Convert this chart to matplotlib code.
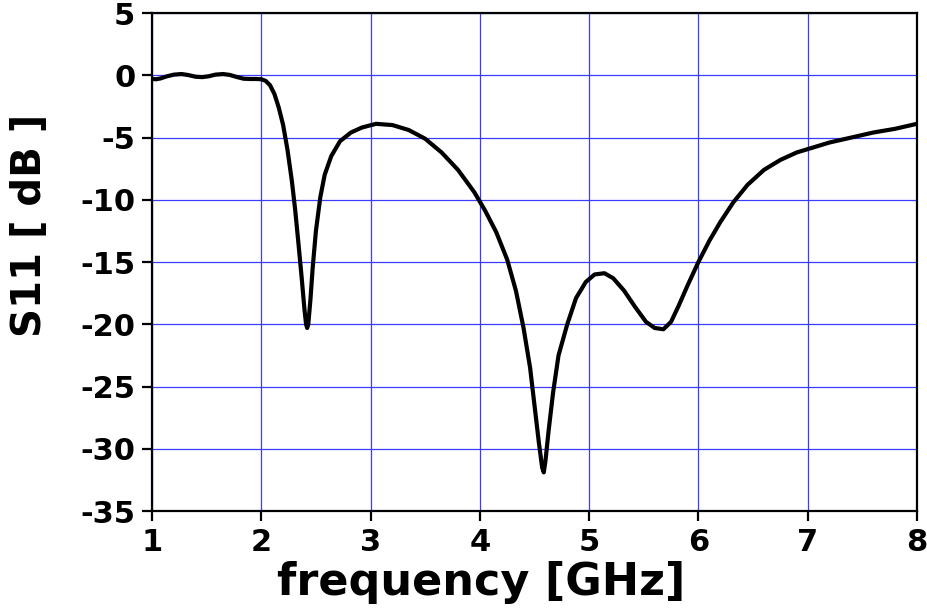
import numpy as np
import matplotlib.pyplot as plt

# S11
freq = [1.00, 1.04, 1.08, 1.13, 1.20, 1.27, 1.33, 1.40, 1.46, 1.52, 1.58, 1.65,
        1.71, 1.78, 1.84, 1.90, 1.95, 2.00, 2.04, 2.08, 2.12, 2.16, 2.20, 2.24,
        2.28, 2.31, 2.34, 2.37, 2.395, 2.41, 2.42, 2.43, 2.45, 2.47, 2.50, 2.54,
        2.58, 2.64, 2.72, 2.82, 2.92, 3.05, 3.20, 3.35, 3.50, 3.65, 3.80, 3.95,
        4.05, 4.15, 4.25, 4.33, 4.40, 4.46, 4.50, 4.54, 4.57, 4.585, 4.60, 4.63,
        4.67, 4.72, 4.80, 4.88, 4.97, 5.05, 5.14, 5.22, 5.32, 5.42, 5.52, 5.60,
        5.68, 5.75, 5.82, 5.90, 6.00, 6.10, 6.20, 6.32, 6.45, 6.60, 6.75, 6.90,
        7.05, 7.20, 7.40, 7.60, 7.80, 8.00]
s11 = [-0.3, -0.32, -0.25, -0.1, 0.05, 0.1, 0.02, -0.12, -0.15, -0.08, 0.05, 0.1,
       0.03, -0.15, -0.28, -0.3, -0.3, -0.32, -0.45, -0.8, -1.5, -2.6, -4.0, -6.0,
       -8.5, -10.8, -13.5, -16.3, -18.8, -20.0, -20.3, -20.0, -18.0, -15.5, -12.5, -9.8,
       -8.0, -6.5, -5.3, -4.6, -4.2, -3.9, -4.0, -4.4, -5.1, -6.2, -7.6, -9.4,
       -10.9, -12.6, -14.8, -17.3, -20.3, -23.5, -26.5, -29.5, -31.5, -31.9, -31.0, -28.5,
       -25.5, -22.5, -20.0, -17.9, -16.6, -16.0, -15.9, -16.3, -17.3, -18.6, -19.8, -20.3,
       -20.4, -19.8, -18.5, -16.9, -15.0, -13.3, -11.8, -10.2, -8.8, -7.6, -6.8, -6.2,
       -5.8, -5.4, -5.0, -4.6, -4.3, -3.9]

xticks = [1, 2, 3, 4, 5, 6, 7, 8]
yticks = [5, 0, -5, -10, -15, -20, -25, -30, -35]

plt.rcParams['font.family'] = 'DejaVu Sans'
plt.rcParams['font.weight'] = 'bold'
plt.rcParams['axes.unicode_minus'] = False

fig = plt.figure(figsize=(9.28, 6.08), dpi=100)
ax = fig.add_axes([0.1638, 0.1595, 0.8243, 0.8191])

ax.plot(freq, s11, color='black', lw=3, solid_joinstyle='round')

ax.set_xlim(1, 8)
ax.set_ylim(-35, 5)
ax.set_xticks(xticks)
ax.set_yticks(yticks)
ax.grid(True, color='#3c3cff', lw=0.9)
ax.set_axisbelow(True)

for sp in ax.spines.values():
    sp.set_linewidth(1.6)
ax.tick_params(direction='out', length=7, width=1.6, labelsize=22, pad=5)

ax.set_xlabel('frequency [GHz]', fontsize=32, fontweight='bold')
ax.set_ylabel('S11 [ dB ]', fontsize=29, fontweight='bold')
ax.xaxis.set_label_coords(0.43, -0.1)
ax.yaxis.set_label_coords(-0.133, 0.574)

fig.savefig('out.png', dpi=100)
